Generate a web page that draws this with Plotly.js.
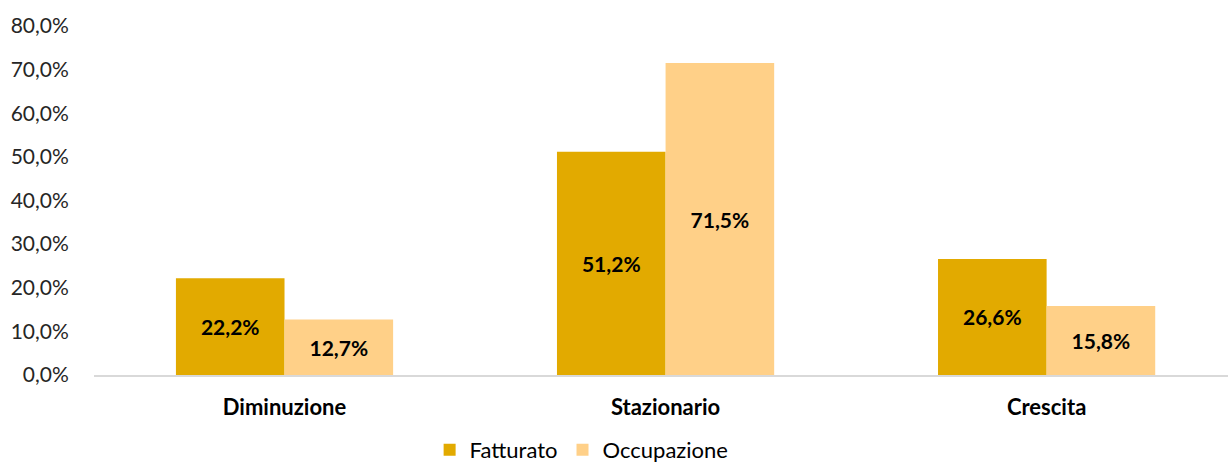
<!DOCTYPE html>
<html>
<head>
<meta charset="utf-8">
<script src="https://cdn.plot.ly/plotly-3.0.1.min.js"></script>
<style>
html,body{margin:0;padding:0;background:#fff;}
#chart{width:1228px;height:465px;}
</style>
</head>
<body>
<div id="chart"></div>
<script>
const categories = ["Diminuzione", "Stazionario", "Crescita"];
const fatturato = [22.2, 51.2, 26.6];
const occupazione = [12.7, 71.5, 15.8];
const seriesNames = ["Fatturato", "Occupazione"];
const yTicks = [0, 10, 20, 30, 40, 50, 60, 70, 80];
const yTickText = yTicks.map(v => v.toFixed(1).replace(".", ",") + "%");

const fontFam = "Lato, 'Open Sans', sans-serif";
const labelFont = {family: fontFam, size: 21, color: "#000000", weight: "bold"};

const traces = [
  {
    type: "bar", name: seriesNames[0], x: categories, y: fatturato,
    marker: {color: "#E2AA00"},
    texttemplate: "<b>%{y:.1f}%</b>", textposition: "inside", insidetextanchor: "middle",
    textfont: labelFont, constraintext: "none", hoverinfo: "skip"
  },
  {
    type: "bar", name: seriesNames[1], x: categories, y: occupazione,
    marker: {color: "#FFD088"},
    texttemplate: "<b>%{y:.1f}%</b>", textposition: "inside", insidetextanchor: "middle",
    textfont: labelFont, constraintext: "none", hoverinfo: "skip"
  }
];

const layout = {
  width: 1228, height: 465,
  margin: {l: 94, r: 0, t: 26, b: 90, autoexpand: false},
  paper_bgcolor: "#ffffff", plot_bgcolor: "#ffffff",
  separators: ",.",
  barmode: "group", bargap: 0.43, bargroupgap: 0,
  font: {family: fontFam, size: 20, color: "#000000"},
  showlegend: true,
  legend: {
    orientation: "h", x: 0.43, xanchor: "center", y: -0.215, yanchor: "middle",
    font: {family: fontFam, size: 22, color: "#000000"},
    itemwidth: 30, traceorder: "normal"
  },
  xaxis: {
    type: "category", range: [-0.5, 2.476],
    showline: true, linecolor: "#D9D9D9", linewidth: 2,
    showgrid: false, zeroline: false,
    ticks: "outside", ticklen: 12, tickcolor: "rgba(0,0,0,0)",
    tickfont: {family: fontFam, size: 22, color: "#000000", weight: "bold"},
    automargin: false, fixedrange: true
  },
  yaxis: {
    range: [0, 80], tickmode: "array", tickvals: yTicks, ticktext: yTickText,
    showline: false, showgrid: false, zeroline: false,
    ticks: "outside", ticklen: 20, tickcolor: "rgba(0,0,0,0)",
    tickfont: {family: fontFam, size: 21, color: "#262626"},
    automargin: false, fixedrange: true
  }
};

Plotly.newPlot("chart", traces, layout, {staticPlot: true, displayModeBar: false});
</script>
</body>
</html>
